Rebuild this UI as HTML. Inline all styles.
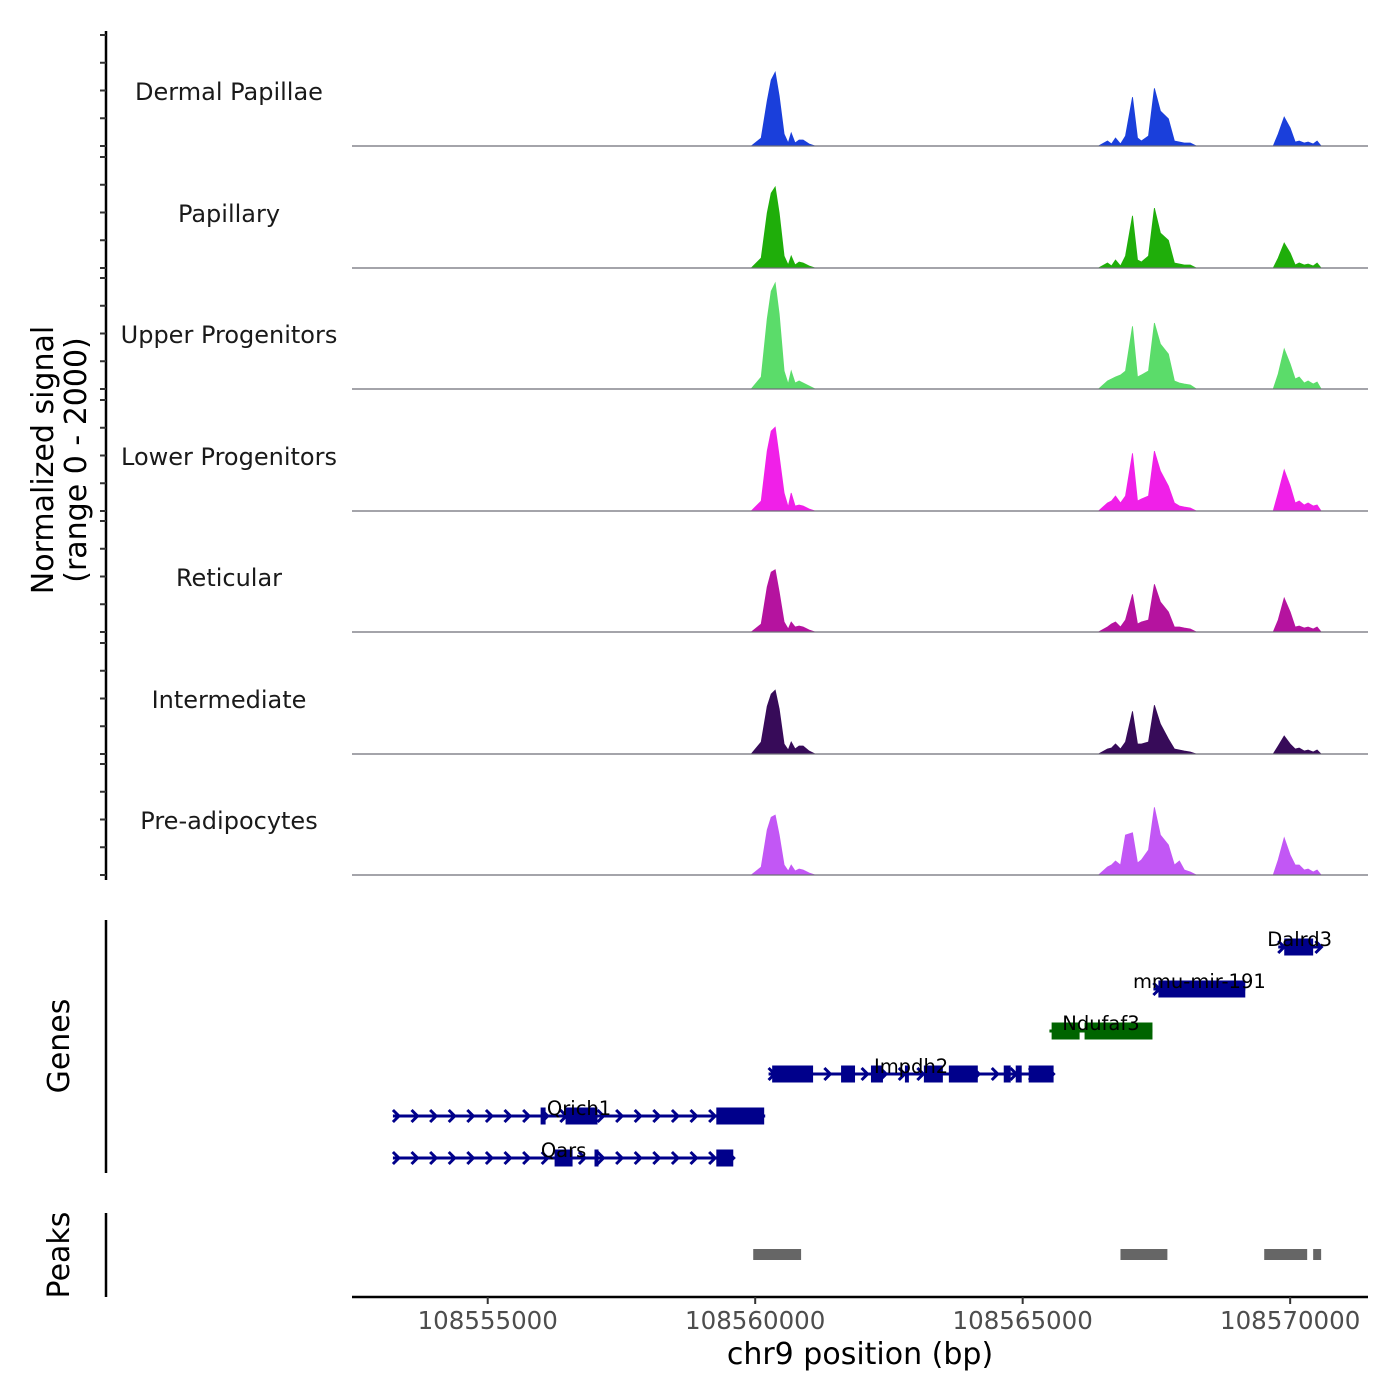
<!DOCTYPE html>
<html><head><meta charset="utf-8"><style>
html,body{margin:0;padding:0;background:#fff}
svg{display:block;font-family:"DejaVu Sans","Liberation Sans",sans-serif}
</style></head><body>
<svg id="chart" width="1400" height="1400" viewBox="0 0 1400 1400" xmlns="http://www.w3.org/2000/svg"></svg>
<script>
const trackNames=["Dermal Papillae","Papillary","Upper Progenitors","Lower Progenitors","Reticular","Intermediate","Pre-adipocytes"];
const trackColors=["#1a3fdb","#1fae0a","#5bdc6a","#f020e8","#b5139f","#370b59","#c257f5"];
const positions=[108559925,108560112,108560224,108560299,108560373,108560448,108560541,108560616,108560672,108560746,108560821,108560896,108561008,108561120,
108566418,108566586,108566660,108566735,108566828,108566922,108567052,108567146,108567220,108567351,108567463,108567575,108567724,108567836,108567929,108568022,108568134,108568246,
108569683,108569777,108569889,108570001,108570094,108570168,108570262,108570336,108570430,108570504,108570579];
const sigDermal=[0,144,810,1190,1330,900,216,54,234,54,108,108,36,0,0,90,36,144,36,180,880,144,90,180,1040,630,490,90,72,54,54,0,0,216,520,324,72,90,54,72,36,90,0];
const sigPapillary=[0,180,990,1350,1460,990,216,54,216,54,108,90,36,0,0,90,36,144,36,216,940,144,108,216,1080,630,500,90,72,54,54,0,0,180,450,270,54,90,54,72,36,90,0];
const sigUpper=[0,216,1260,1760,1910,1350,324,90,324,108,144,108,54,0,0,144,180,216,252,324,1130,216,252,324,1190,810,630,144,108,90,72,0,0,270,720,450,180,216,108,144,90,126,0];
const sigLower=[0,180,1080,1440,1510,990,324,72,324,90,108,90,36,0,0,144,180,270,144,270,1040,180,216,270,1080,720,450,144,90,72,54,0,0,324,740,450,144,180,108,144,90,108,0];
const sigReticular=[0,144,810,1080,1120,720,180,54,180,90,108,90,36,0,0,90,144,180,90,216,680,144,180,216,860,540,360,90,90,72,54,0,0,216,610,360,90,108,72,90,54,90,0];
const sigIntermediate=[0,216,860,1080,1150,810,180,72,216,90,144,144,54,0,0,90,108,180,90,216,770,180,180,216,880,540,270,90,72,54,36,0,0,144,324,180,90,108,54,72,36,72,0];
const sigPreadipo=[0,144,810,1040,1080,720,180,72,180,72,108,90,36,0,0,144,180,252,180,720,760,216,270,450,1220,720,540,180,252,90,54,0,0,270,670,360,180,180,90,108,54,90,0];
const signals=[sigDermal,sigPapillary,sigUpper,sigLower,sigReticular,sigIntermediate,sigPreadipo];
const xTicks=[108555000,108560000,108565000,108570000];
const geneNames=["Dalrd3","mmu-mir-191","Ndufaf3","Impdh2","Qrich1","Qars"];
const geneStarts=[108569777,108567444,108565500,108560250,108553228,108553228];
const geneEnds=[108570579,108569161,108567426,108565578,108560187,108559608];
const geneStrandPlus=[true,true,false,true,true,true];
const geneExons=[
 [[108569889,108570430]],
 [[108567537,108569161]],
 [[108565541,108566064],[108566157,108567426]],
 [[108560317,108561082],[108561605,108561866],[108562164,108562388],[108562799,108562873],[108563153,108563508],[108563620,108564161],[108564646,108564776],[108564870,108564982],[108565112,108565578]],
 [[108555989,108556082],[108556455,108557052],[108559273,108560168]],
 [[108556250,108556586],[108556996,108557071],[108559273,108559590]]];
const peakStarts=[108559963,108566828,108569515,108570430];
const peakEnds=[108560858,108567705,108570318,108570579];

const svg=document.getElementById('chart');
const NS="http://www.w3.org/2000/svg";
const X0=352,X1=1368,bp0=108552463,bp1=108571455;
function xs(b){return X0+(b-bp0)/(bp1-bp0)*(X1-X0);}
const baselines=[146,268,389,511,632,754,875];
const TH=111;
function ys(v,i){return baselines[i]-v/2000*TH;}
function mk(tag,attrs,parent){const e=document.createElementNS(NS,tag);for(const k in attrs)e.setAttribute(k,attrs[k]);(parent||svg).appendChild(e);return e;}

let ax=mk('line',{x1:106,y1:31,x2:106,y2:880,stroke:'#000','stroke-width':2.5});


for(let i=0;i<7;i++){
  for(let k=0;k<5;k++){
    const y=baselines[i]-k*TH/4;
    const t=mk('line',{x1:100,y1:y,x2:106,y2:y,stroke:'#333','stroke-width':2});
    
    
  }
}
let yt=mk('text',{x:0,y:0,transform:'translate(53,460) rotate(-90)','text-anchor':'middle','font-size':30,fill:'#000'});
yt.textContent='Normalized signal';


let yt2=mk('text',{x:0,y:0,transform:'translate(86,460) rotate(-90)','text-anchor':'middle','font-size':30,fill:'#000'});
yt2.textContent='(range 0 - 2000)';



for(let i=0;i<7;i++){
  const sig=signals[i];
  let d='M'+xs(bp0)+','+baselines[i]+' L'+xs(positions[0])+','+baselines[i];
  for(let j=0;j<positions.length;j++)d+=' L'+xs(positions[j]).toFixed(1)+','+ys(sig[j],i).toFixed(1);
  d+=' L'+xs(positions[positions.length-1])+','+baselines[i]+' Z';
  const p=mk('path',{d:d,fill:trackColors[i],stroke:trackColors[i],'stroke-width':0.8});
  
  
  const bl=mk('line',{x1:X0,y1:baselines[i],x2:X1,y2:baselines[i],stroke:'#6e6e78','stroke-width':1.2});
  
  
  const lb=mk('text',{x:229,y:baselines[i]-46,'text-anchor':'middle','font-size':24,fill:'#1a1a1a'});
  lb.textContent=trackNames[i];
  
  
}

let ga=mk('line',{x1:106,y1:920,x2:106,y2:1173,stroke:'#000','stroke-width':2.5});


let gt=mk('text',{x:0,y:0,transform:'translate(69,1046) rotate(-90)','text-anchor':'middle','font-size':30});
gt.textContent='Genes';


const rowY=[947,989,1031,1074,1116,1158];
for(let g=0;g<geneNames.length;g++){
  const col=geneStrandPlus[g]?'#00008b':'#006400';
  const y=rowY[g];
  const grp=mk('g',{});
  
  
  const a=xs(geneStarts[g]),b=xs(geneEnds[g]);
  mk('line',{x1:a,y1:y,x2:b,y2:y,stroke:col,'stroke-width':3},grp);
  if(geneStrandPlus[g]){
    for(let x=a+4;x<=b+1;x+=18.6){
      mk('polyline',{points:(x-4)+','+(y-6)+' '+(x+2)+','+y+' '+(x-4)+','+(y+6),fill:'none',stroke:col,'stroke-width':3},grp);
    }
  }
  for(const e of geneExons[g]){
    mk('rect',{x:xs(e[0]),y:y-8.5,width:Math.max(3,xs(e[1])-xs(e[0])),height:17,fill:col},grp);
  }
  const t=mk('text',{x:(a+b)/2,y:y-1,'text-anchor':'middle','font-size':19.5,fill:'#000'},grp);
  t.textContent=geneNames[g];
}
let pa=mk('line',{x1:106,y1:1213,x2:106,y2:1297,stroke:'#000','stroke-width':2.5});


let pt=mk('text',{x:0,y:0,transform:'translate(69,1255) rotate(-90)','text-anchor':'middle','font-size':30});
pt.textContent='Peaks';


for(let k=0;k<peakStarts.length;k++){
  const r=mk('rect',{x:xs(peakStarts[k]),y:1249,width:xs(peakEnds[k])-xs(peakStarts[k]),height:11,fill:'#666'});
  
  
}
let xa=mk('line',{x1:X0,y1:1297,x2:X1,y2:1297,stroke:'#000','stroke-width':2.5});


for(const v of xTicks){
  const t=mk('line',{x1:xs(v),y1:1297,x2:xs(v),y2:1304,stroke:'#333','stroke-width':2});
  
  
  const l=mk('text',{x:xs(v),y:1329,'text-anchor':'middle','font-size':24.5,fill:'#4d4d4d'});
  l.textContent=String(v);
  
  
}
let xt=mk('text',{x:860,y:1364,'text-anchor':'middle','font-size':30,fill:'#000'});
xt.textContent='chr9 position (bp)';


</script>
</body></html>
